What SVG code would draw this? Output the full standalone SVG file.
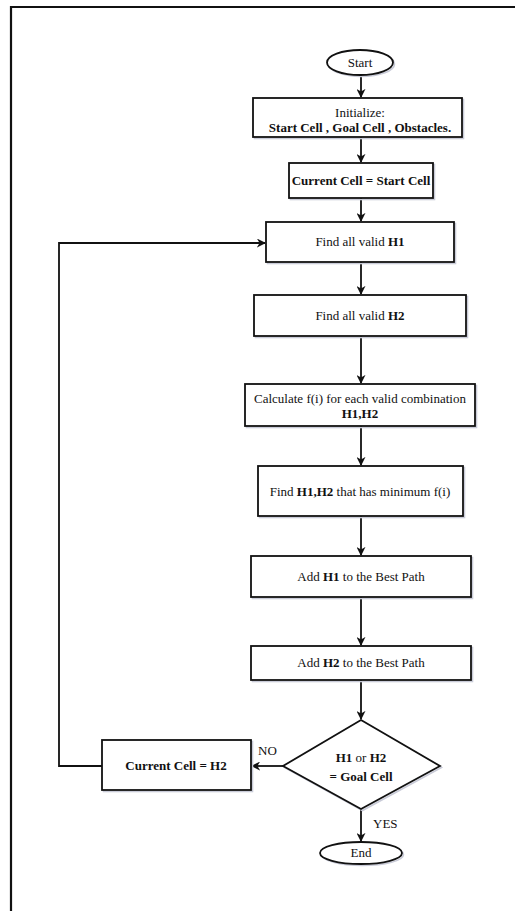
<svg xmlns="http://www.w3.org/2000/svg" width="515" height="911" viewBox="0 0 515 911">
<style>
.n{fill:#fff;stroke:#111;stroke-width:1.8}
.sh{fill:none;stroke:#c9cbd8;stroke-width:1.6}
.t{font-family:"Liberation Serif","Times New Roman",serif;font-size:13px;fill:#111;text-anchor:middle}
.b{font-weight:bold}
.c{fill:none;stroke:#111;stroke-width:1.8}
.l{font-family:"Liberation Serif","Times New Roman",serif;font-size:13px;fill:#111}
</style>
<defs>
<marker id="ah" viewBox="0 0 10 10" refX="9" refY="5" markerWidth="5" markerHeight="5" orient="auto" markerUnits="strokeWidth">
<path d="M0,0 L10,5 L0,10 L3,5 z" fill="#111"/>
</marker>
</defs>
<rect width="515" height="911" fill="#fff"/>
<path d="M11,911 V7 H515" fill="none" stroke="#111" stroke-width="2.2"/>
<g id="connectors">
<path class="c" d="M361,75 V97" marker-end="url(#ah)"/>
<path class="c" d="M361,137 V162" marker-end="url(#ah)"/>
<path class="c" d="M361,198 V221" marker-end="url(#ah)"/>
<path class="c" d="M361,262 V294" marker-end="url(#ah)"/>
<path class="c" d="M361,336 V383" marker-end="url(#ah)"/>
<path class="c" d="M361,426 V465" marker-end="url(#ah)"/>
<path class="c" d="M361,516 V555" marker-end="url(#ah)"/>
<path class="c" d="M361,597 V645" marker-end="url(#ah)"/>
<path class="c" d="M361,680 V719" marker-end="url(#ah)"/>
<path class="c" d="M283,766 H252" marker-end="url(#ah)"/>
<path class="c" d="M102,766 H59 V243 H265" marker-end="url(#ah)"/>
<path class="c" d="M361,809 V841" marker-end="url(#ah)"/>
<text class="l" x="258" y="755">NO</text>
<text class="l" x="373" y="828">YES</text>
</g>
<g id="start">
<ellipse class="sh" cx="361.5" cy="64" rx="33" ry="12.5"/>
<ellipse class="n" cx="360" cy="62.5" rx="33" ry="12.5"/>
<text class="t" x="360" y="67">Start</text>
</g>
<g id="init">
<rect class="sh" x="254.5" y="99.5" width="209" height="39"/>
<rect class="n" x="253" y="98" width="209" height="39"/>
<text class="t" x="360" y="117">Initialize:</text>
<text class="t b" x="360" y="132">Start Cell , Goal Cell , Obstacles.</text>
</g>
<g id="current-start">
<rect class="sh" x="290.5" y="164.5" width="144" height="35"/>
<rect class="n" x="289" y="163" width="144" height="35"/>
<text class="t b" x="361" y="185">Current Cell = Start Cell</text>
</g>
<g id="find-h1">
<rect class="sh" x="267.5" y="223.5" width="188" height="40"/>
<rect class="n" x="266" y="222" width="188" height="40"/>
<text class="t" x="360" y="246">Find all valid <tspan class="b">H1</tspan></text>
</g>
<g id="find-h2">
<rect class="sh" x="255.5" y="296.5" width="212" height="41"/>
<rect class="n" x="254" y="295" width="212" height="41"/>
<text class="t" x="360" y="320">Find all valid <tspan class="b">H2</tspan></text>
</g>
<g id="calculate">
<rect class="sh" x="246.5" y="385.5" width="230" height="42"/>
<rect class="n" x="245" y="384" width="230" height="42"/>
<text class="t" x="360" y="403">Calculate f(i) for each valid combination</text>
<text class="t b" x="360" y="418">H1,H2</text>
</g>
<g id="find-min">
<rect class="sh" x="259.5" y="467.5" width="205" height="50"/>
<rect class="n" x="258" y="466" width="205" height="50"/>
<text class="t" x="360" y="496">Find <tspan class="b">H1,H2</tspan> that has minimum f(i)</text>
</g>
<g id="add-h1">
<rect class="sh" x="252.5" y="557.5" width="220" height="41"/>
<rect class="n" x="251" y="556" width="220" height="41"/>
<text class="t" x="361" y="581">Add <tspan class="b">H1</tspan> to the Best Path</text>
</g>
<g id="add-h2">
<rect class="sh" x="252.5" y="647.5" width="220" height="34"/>
<rect class="n" x="251" y="646" width="220" height="34"/>
<text class="t" x="361" y="667">Add <tspan class="b">H2</tspan> to the Best Path</text>
</g>
<g id="decision">
<polygon class="sh" points="362.5,721.5 441.5,767.5 362.5,810.5 284.5,767.5"/>
<polygon class="n" points="361,720 440,766 361,809 283,766"/>
<text class="t b" x="361" y="762">H1 <tspan style="font-weight:normal">or</tspan> H2</text>
<text class="t b" x="361" y="781">= Goal Cell</text>
</g>
<g id="current-h2">
<rect class="sh" x="103.5" y="741.5" width="149" height="50"/>
<rect class="n" x="102" y="740" width="149" height="50"/>
<text class="t b" x="176" y="770">Current Cell = H2</text>
</g>
<g id="end">
<ellipse class="sh" cx="362.5" cy="854.5" rx="41" ry="11"/>
<ellipse class="n" cx="361" cy="853" rx="41" ry="11"/>
<text class="t" x="361" y="857">End</text>
</g>
</svg>
